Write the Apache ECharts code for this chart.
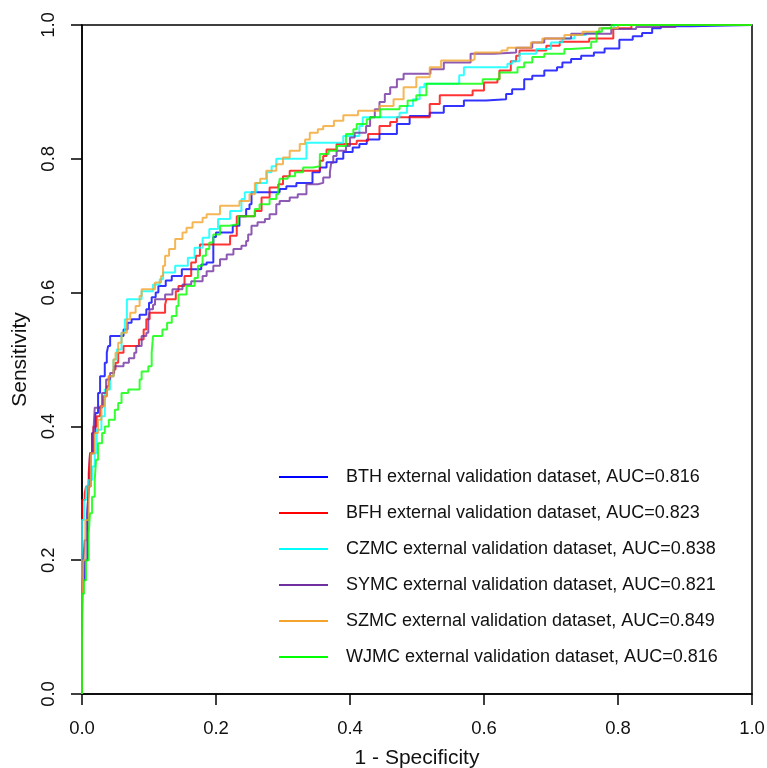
<!DOCTYPE html>
<html>
<head>
<meta charset="utf-8">
<script src="https://cdn.jsdelivr.net/npm/echarts@6/dist/echarts.min.js"></script>
<style>
html,body{margin:0;padding:0;background:#fff;}
#chart{width:767px;height:768px;}
</style>
</head>
<body>
<div id="chart"></div>
<script>
// ROC points: [1 - specificity, sensitivity]; each point starts a new level (step curve)
const seriesNames = [
  'BTH external validation dataset, AUC=0.816',
  'BFH external validation dataset, AUC=0.823',
  'CZMC external validation dataset, AUC=0.838',
  'SYMC external validation dataset, AUC=0.821',
  'SZMC external validation dataset, AUC=0.849',
  'WJMC external validation dataset, AUC=0.816'
];
const seriesColors = ['#0000FF', '#FF0000', '#00FFFF', '#7030A0', '#F2A42C', '#00FF00'];

const bth = [[0,0],[0,0.17],[0.004,0.2],[0.008,0.27],[0.01,0.31],[0.012,0.36],[0.015,0.39],[0.02,0.42],[0.024,0.45],[0.027,0.475],[0.034,0.495],[0.037,0.51],[0.039,0.52],[0.042,0.535],[0.062,0.545],[0.068,0.555],[0.074,0.56],[0.086,0.567],[0.096,0.575],[0.1,0.585],[0.104,0.593],[0.11,0.6],[0.114,0.61],[0.125,0.618],[0.134,0.625],[0.149,0.635],[0.178,0.642],[0.186,0.645],[0.196,0.683],[0.2,0.69],[0.225,0.7],[0.235,0.714],[0.245,0.725],[0.25,0.732],[0.253,0.75],[0.295,0.755],[0.305,0.759],[0.32,0.764],[0.344,0.78],[0.355,0.787],[0.365,0.795],[0.38,0.8],[0.39,0.81],[0.404,0.817],[0.414,0.822],[0.425,0.829],[0.444,0.837],[0.47,0.852],[0.489,0.864],[0.519,0.869],[0.54,0.879],[0.57,0.887],[0.603,0.889],[0.633,0.897],[0.642,0.904],[0.66,0.919],[0.672,0.924],[0.69,0.932],[0.709,0.937],[0.717,0.944],[0.73,0.949],[0.745,0.954],[0.764,0.959],[0.78,0.965],[0.802,0.978],[0.822,0.983],[0.836,0.988],[0.851,0.995],[0.864,0.998],[0.909,1],[1,1]];

const bfh = [[0,0],[0,0.29],[0.004,0.3],[0.006,0.31],[0.01,0.33],[0.012,0.36],[0.017,0.4],[0.022,0.415],[0.027,0.43],[0.032,0.445],[0.037,0.46],[0.04,0.475],[0.047,0.485],[0.05,0.495],[0.054,0.51],[0.062,0.52],[0.085,0.53],[0.092,0.545],[0.096,0.56],[0.101,0.57],[0.124,0.582],[0.126,0.59],[0.14,0.602],[0.144,0.61],[0.153,0.625],[0.163,0.645],[0.17,0.655],[0.176,0.672],[0.221,0.685],[0.231,0.714],[0.258,0.722],[0.268,0.742],[0.28,0.757],[0.293,0.762],[0.3,0.774],[0.31,0.782],[0.355,0.797],[0.36,0.804],[0.365,0.814],[0.38,0.822],[0.41,0.827],[0.427,0.837],[0.444,0.849],[0.46,0.855],[0.47,0.862],[0.519,0.882],[0.534,0.895],[0.583,0.902],[0.6,0.914],[0.62,0.919],[0.623,0.932],[0.64,0.946],[0.648,0.954],[0.653,0.962],[0.693,0.969],[0.713,0.975],[0.757,0.98],[0.793,0.995],[0.82,1],[1,1]];

const czmc = [[0,0],[0,0.26],[0.003,0.29],[0.006,0.31],[0.01,0.32],[0.015,0.34],[0.019,0.36],[0.022,0.395],[0.029,0.415],[0.034,0.455],[0.042,0.475],[0.047,0.5],[0.052,0.515],[0.059,0.54],[0.064,0.56],[0.067,0.59],[0.089,0.602],[0.106,0.612],[0.116,0.62],[0.121,0.63],[0.139,0.64],[0.158,0.652],[0.168,0.667],[0.18,0.682],[0.19,0.695],[0.203,0.71],[0.221,0.722],[0.238,0.74],[0.243,0.75],[0.26,0.764],[0.276,0.78],[0.283,0.789],[0.29,0.8],[0.335,0.824],[0.39,0.834],[0.414,0.849],[0.419,0.862],[0.474,0.869],[0.485,0.879],[0.494,0.889],[0.504,0.907],[0.511,0.912],[0.563,0.925],[0.57,0.937],[0.635,0.942],[0.642,0.946],[0.653,0.957],[0.678,0.964],[0.7,0.974],[0.717,0.98],[0.735,0.985],[0.752,0.988],[0.772,0.995],[0.794,1],[1,1]];

const symc = [[0,0],[0,0.12],[0.002,0.2],[0.004,0.23],[0.008,0.27],[0.01,0.31],[0.013,0.36],[0.017,0.39],[0.019,0.428],[0.03,0.45],[0.036,0.47],[0.042,0.48],[0.048,0.49],[0.062,0.495],[0.07,0.502],[0.078,0.51],[0.081,0.52],[0.089,0.535],[0.096,0.54],[0.099,0.56],[0.101,0.575],[0.106,0.582],[0.109,0.59],[0.124,0.597],[0.135,0.605],[0.15,0.612],[0.163,0.617],[0.18,0.625],[0.186,0.632],[0.196,0.64],[0.206,0.65],[0.216,0.657],[0.226,0.665],[0.238,0.67],[0.245,0.677],[0.248,0.687],[0.253,0.7],[0.262,0.705],[0.273,0.71],[0.28,0.717],[0.29,0.732],[0.295,0.737],[0.31,0.742],[0.322,0.747],[0.335,0.762],[0.352,0.764],[0.36,0.772],[0.37,0.78],[0.372,0.794],[0.375,0.804],[0.38,0.812],[0.394,0.819],[0.4,0.832],[0.407,0.839],[0.424,0.849],[0.43,0.862],[0.437,0.874],[0.444,0.885],[0.452,0.897],[0.46,0.907],[0.47,0.919],[0.48,0.927],[0.52,0.934],[0.54,0.944],[0.58,0.957],[0.615,0.959],[0.648,0.966],[0.672,0.974],[0.69,0.98],[0.73,0.987],[0.79,0.994],[0.827,0.997],[0.886,1],[1,1]];

const szmc = [[0,0],[0,0.078],[0.002,0.2],[0.005,0.26],[0.01,0.31],[0.013,0.36],[0.019,0.39],[0.024,0.41],[0.029,0.43],[0.034,0.445],[0.037,0.455],[0.04,0.475],[0.047,0.5],[0.05,0.51],[0.054,0.525],[0.059,0.54],[0.067,0.56],[0.072,0.57],[0.08,0.58],[0.086,0.595],[0.089,0.605],[0.109,0.615],[0.118,0.625],[0.121,0.64],[0.124,0.655],[0.13,0.665],[0.139,0.68],[0.15,0.69],[0.156,0.697],[0.165,0.705],[0.18,0.712],[0.186,0.717],[0.206,0.73],[0.235,0.737],[0.25,0.747],[0.258,0.764],[0.266,0.77],[0.275,0.782],[0.29,0.792],[0.3,0.802],[0.31,0.812],[0.325,0.822],[0.333,0.829],[0.34,0.839],[0.352,0.844],[0.36,0.849],[0.376,0.857],[0.39,0.865],[0.412,0.872],[0.444,0.879],[0.465,0.889],[0.48,0.907],[0.499,0.922],[0.519,0.937],[0.536,0.947],[0.583,0.949],[0.586,0.959],[0.626,0.962],[0.635,0.966],[0.67,0.974],[0.687,0.98],[0.72,0.985],[0.747,0.99],[0.772,0.995],[0.8,1],[1,1]];

const wjmc = [[0,0],[0,0.15],[0.003,0.17],[0.006,0.2],[0.01,0.24],[0.012,0.27],[0.015,0.295],[0.019,0.32],[0.021,0.35],[0.024,0.375],[0.03,0.39],[0.034,0.4],[0.04,0.41],[0.049,0.425],[0.054,0.435],[0.059,0.45],[0.069,0.455],[0.086,0.47],[0.089,0.482],[0.099,0.49],[0.104,0.51],[0.106,0.535],[0.12,0.545],[0.127,0.555],[0.134,0.565],[0.141,0.58],[0.144,0.597],[0.156,0.61],[0.168,0.622],[0.173,0.64],[0.18,0.655],[0.185,0.665],[0.19,0.675],[0.196,0.687],[0.206,0.7],[0.22,0.702],[0.233,0.714],[0.258,0.725],[0.265,0.732],[0.28,0.74],[0.29,0.747],[0.293,0.754],[0.295,0.77],[0.307,0.774],[0.318,0.78],[0.33,0.787],[0.345,0.789],[0.355,0.807],[0.368,0.812],[0.38,0.819],[0.394,0.837],[0.405,0.844],[0.41,0.852],[0.425,0.859],[0.43,0.862],[0.445,0.874],[0.474,0.879],[0.486,0.887],[0.499,0.895],[0.514,0.912],[0.598,0.919],[0.623,0.929],[0.65,0.937],[0.66,0.944],[0.672,0.952],[0.69,0.957],[0.72,0.964],[0.73,0.966],[0.76,0.975],[0.768,0.99],[0.776,0.995],[0.79,1],[1,1]];

const allData = [bth, bfh, czmc, symc, szmc, wjmc];

const chart = echarts.init(document.getElementById('chart'));
const fontFam = 'Liberation Sans, Arial, sans-serif';
chart.setOption({
  animation: false,
  backgroundColor: '#fff',
  grid: {left: 82, right: 15, top: 25, bottom: 74, outerBoundsMode: 'none', containLabel: false, show: true, borderColor: '#000', borderWidth: 1.5, backgroundColor: 'transparent'},
  xAxis: {
    type: 'value', min: 0, max: 1, interval: 0.2,
    name: '1 - Specificity', nameLocation: 'middle', nameGap: 54,
    nameTextStyle: {fontSize: 21, color: '#111', fontFamily: fontFam},
    axisLine: {show: true, lineStyle: {color: '#000', width: 1.5}},
    axisTick: {show: true, inside: false, length: 11, lineStyle: {color: '#000', width: 1.5}},
    axisLabel: {fontSize: 18.5, color: '#111', fontFamily: fontFam, margin: 25, formatter: v => v.toFixed(1)},
    splitLine: {show: false}
  },
  yAxis: {
    type: 'value', min: 0, max: 1, interval: 0.2,
    name: 'Sensitivity', nameLocation: 'middle', nameGap: 50,
    nameTextStyle: {fontSize: 21, color: '#111', fontFamily: fontFam},
    axisLine: {show: true, lineStyle: {color: '#000', width: 1.5}},
    axisTick: {show: true, inside: false, length: 11, lineStyle: {color: '#000', width: 1.5}},
    axisLabel: {fontSize: 18.5, color: '#111', fontFamily: fontFam, margin: 24, rotate: 90, formatter: v => v.toFixed(1)},
    splitLine: {show: false}
  },
  legend: {
    orient: 'vertical', left: 274, top: 462,
    icon: 'rect', itemWidth: 49, itemHeight: 2, itemGap: 16,
    textStyle: {fontSize: 18, color: '#111', fontFamily: fontFam, lineHeight: 20, padding: [0, 0, 0, 13]},
    data: seriesNames
  },
  series: allData.map((d, i) => ({
    name: seriesNames[i], type: 'line', data: d, step: 'end',
    symbol: 'none', showSymbol: false,
    lineStyle: {color: seriesColors[i], width: 2, opacity: 0.8},
    itemStyle: {color: seriesColors[i]},
    z: 2 + i
  }))
});
</script>
</body>
</html>
